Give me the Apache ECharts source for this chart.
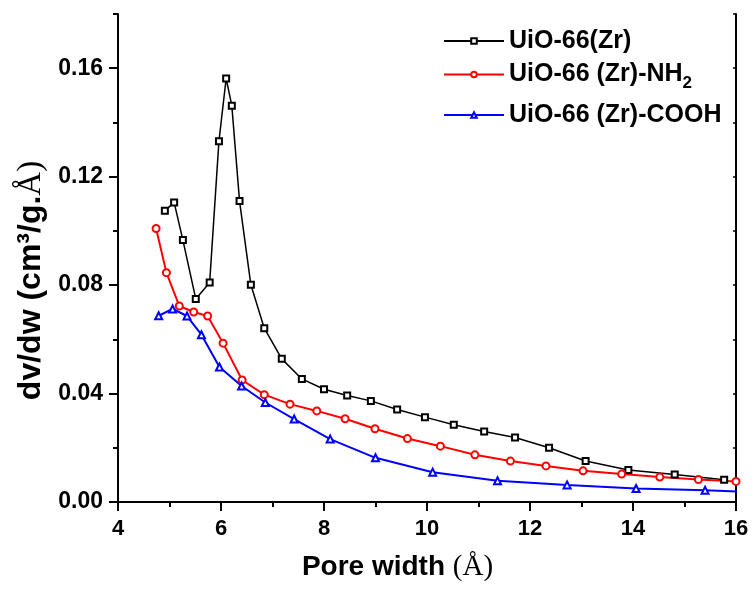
<!DOCTYPE html>
<html>
<head>
<meta charset="utf-8">
<script src="https://cdn.jsdelivr.net/npm/echarts@6/dist/echarts.min.js"></script>
<style>
  html, body { margin: 0; padding: 0; background: #fff; }
  #chart { width: 754px; height: 592px; }
</style>
</head>
<body>
<div id="chart"></div>
<script>
// series names
var names = ['UiO-66(Zr)', 'UiO-66 (Zr)-NH2', 'UiO-66 (Zr)-COOH']

// y tick labels (major ticks)
var yMajor = [0, 0.04, 0.08, 0.12, 0.16]

// UiO-66(Zr)
var zrX = [4.91, 5.09, 5.26, 5.51, 5.78, 5.96, 6.10, 6.21, 6.36, 6.58, 6.84, 7.18, 7.57, 8.00, 8.45, 8.91, 9.42, 9.96, 10.52, 11.11, 11.71, 12.37, 13.08, 13.91, 14.81, 15.77]
var zrY = [0.1074, 0.1105, 0.0966, 0.0749, 0.0810, 0.1331, 0.1562, 0.1462, 0.1110, 0.0801, 0.0641, 0.0528, 0.0454, 0.0416, 0.0393, 0.0373, 0.0341, 0.0313, 0.0285, 0.0260, 0.0238, 0.0200, 0.0151, 0.0118, 0.0101, 0.0082]

// UiO-66 (Zr)-NH2
var nh2X = [4.74, 4.94, 5.19, 5.47, 5.74, 6.04, 6.41, 6.84, 7.34, 7.86, 8.41, 8.99, 9.62, 10.26, 10.93, 11.62, 12.31, 13.03, 13.78, 14.52, 15.27, 16.0]
var nh2Y = [0.1009, 0.0846, 0.0723, 0.0701, 0.0686, 0.0586, 0.0450, 0.0396, 0.0361, 0.0336, 0.0307, 0.0270, 0.0234, 0.0206, 0.0174, 0.0151, 0.0133, 0.0115, 0.0103, 0.0092, 0.0083, 0.0076]

// UiO-66 (Zr)-COOH (last point lies past the axis end and is clipped)
var coohX = [4.79, 5.06, 5.34, 5.62, 5.97, 6.40, 6.86, 7.42, 8.12, 9.00, 10.11, 11.37, 12.72, 14.06, 15.40, 16.5]
var coohY = [0.0687, 0.0712, 0.0686, 0.0617, 0.0498, 0.0428, 0.0367, 0.0306, 0.0232, 0.0163, 0.0110, 0.0078, 0.0063, 0.0050, 0.0043, 0.0036]

function zip (xs, ys) {
  return xs.map(function (x, i) { return [x, ys[i]] })
}

var FONT = 'Liberation Sans, Arial, sans-serif'
var SERIF = 'Liberation Serif, Times New Roman, serif'

function legendItem (name, top) {
  return {
    data: [name],
    left: 443,
    top: top,
    padding: 0,
    orient: 'vertical',
    itemWidth: 60,
    itemHeight: 7,
    textStyle: {
      fontFamily: FONT,
      fontWeight: 'bold',
      fontSize: 25,
      lineHeight: 30,
      color: '#000',
      rich: {
        s: { fontFamily: FONT, fontWeight: 'bold', fontSize: 17, lineHeight: 17, padding: [18, 0, 0, 0], color: '#000' }
      }
    },
    formatter: function (n) {
      return n === names[1] ? 'UiO-66 (Zr)-NH{s|2}' : n
    }
  }
}

var option = {
  animation: false,
  backgroundColor: '#fff',
  grid: { left: 118, right: 18, top: 14, bottom: 90 },
  legend: [
    legendItem(names[0], 26),
    legendItem(names[1], 57),
    legendItem(names[2], 100)
  ],
  xAxis: [{
    type: 'value',
    min: 4,
    max: 16,
    interval: 2,
    name: 'Pore width {a|(Å)}',
    nameLocation: 'middle',
    nameGap: 51,
    nameTextStyle: {
      fontFamily: FONT,
      fontWeight: 'bold',
      fontSize: 28,
      color: '#000',
      padding: [0, 59, 0, 0],
      rich: {
        a: { fontFamily: SERIF, fontWeight: 'normal', fontSize: 29, color: '#000' }
      }
    },
    axisLine: { lineStyle: { color: '#000', width: 2 } },
    axisTick: { inside: false, length: 9, lineStyle: { width: 2 } },
    minorTick: { show: true, splitNumber: 2, length: 5, lineStyle: { color: '#000', width: 2 } },
    splitLine: { show: false },
    axisLabel: { fontFamily: FONT, fontWeight: 'bold', fontSize: 22, color: '#000', margin: 16 }
  }, {
    type: 'value',
    position: 'top',
    min: 4,
    max: 16,
    interval: 1,
    axisLine: { lineStyle: { color: '#000', width: 2 } },
    axisTick: { inside: true, length: 3, lineStyle: { width: 1.5 } },
    axisLabel: { show: false },
    splitLine: { show: false }
  }],
  yAxis: [{
    // left axis: minor ticks every 0.02 and the labels
    type: 'value',
    min: 0,
    max: 0.18,
    interval: 0.02,
    name: 'dv/dw (cm³/g.{a|Å)}',
    nameLocation: 'middle',
    nameRotate: 90,
    nameGap: 64,
    nameTextStyle: {
      fontFamily: FONT,
      fontWeight: 'bold',
      fontSize: 32,
      color: '#000',
      padding: [0, 45, 0, 0],
      rich: {
        a: { fontFamily: SERIF, fontWeight: 'normal', fontSize: 33, color: '#000' }
      }
    },
    axisLine: { show: true, lineStyle: { color: '#000', width: 2 } },
    axisTick: { show: true, inside: false, length: 5, lineStyle: { width: 2 } },
    splitLine: { show: false },
    axisLabel: {
      fontFamily: FONT,
      fontWeight: 'bold',
      fontSize: 23,
      color: '#000',
      margin: 15,
      customValues: yMajor,
      formatter: function (v) { return v.toFixed(2) }
    }
  }, {
    type: 'value',
    position: 'right',
    min: 0,
    max: 0.18,
    interval: 0.02,
    axisLine: { show: true, lineStyle: { color: '#000', width: 2 } },
    axisTick: { show: true, inside: true, length: 3, lineStyle: { width: 1.5 } },
    axisLabel: { show: false },
    splitLine: { show: false }
  }, {
    // left axis: long major ticks only
    type: 'value',
    position: 'left',
    min: 0,
    max: 0.18,
    axisLine: { show: false },
    axisTick: { show: true, inside: false, length: 9, customValues: yMajor, lineStyle: { color: '#000', width: 2 } },
    axisLabel: { show: false },
    splitLine: { show: false }
  }],
  series: [{
    name: names[0],
    type: 'line',
    data: zip(zrX, zrY),
    symbol: 'emptyRect',
    symbolSize: 6,
    color: '#000',
    lineStyle: { color: '#000', width: 1.5 },
    itemStyle: { color: '#000', borderWidth: 1 }
  }, {
    name: names[1],
    type: 'line',
    data: zip(nh2X, nh2Y),
    symbol: 'emptyCircle',
    symbolSize: 7,
    color: '#ff0000',
    lineStyle: { color: '#ff0000', width: 2 },
    itemStyle: { color: '#ff0000', borderWidth: 1.2 }
  }, {
    name: names[2],
    type: 'line',
    data: zip(coohX, coohY),
    symbol: 'emptyTriangle',
    symbolSize: 7,
    color: '#0000ff',
    lineStyle: { color: '#0000ff', width: 2 },
    itemStyle: { color: '#0000ff', borderWidth: 1.2 }
  }]
}

var myChart = echarts.init(document.getElementById('chart'))
myChart.setOption(option)
</script>
</body>
</html>
